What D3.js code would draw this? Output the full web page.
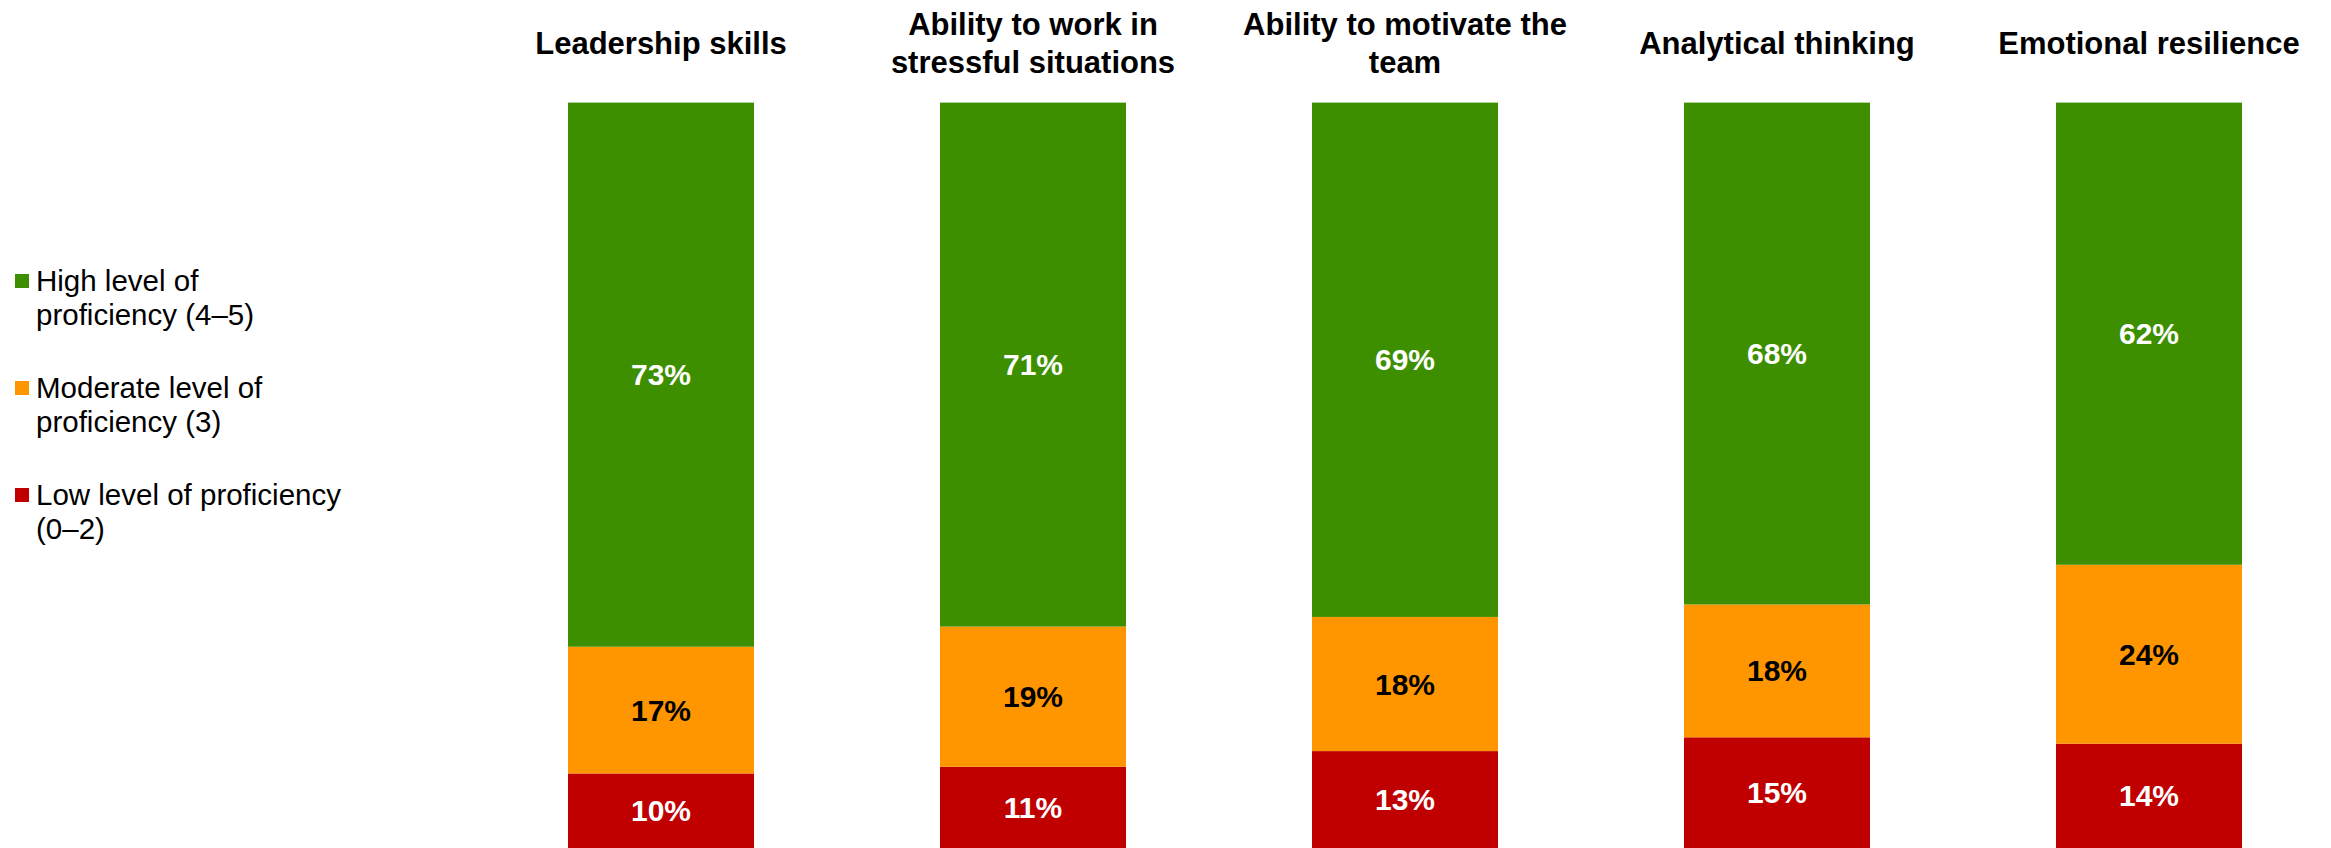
<!DOCTYPE html>
<html>
<head>
<meta charset="utf-8">
<script src="https://cdn.jsdelivr.net/npm/d3@7"></script>
<style>
  html, body { margin: 0; padding: 0; background: #fff; }
  svg { display: block; font-family: "Liberation Sans", Arial, Helvetica, sans-serif; }
</style>
</head>
<body>
<svg id="chart" width="2331" height="848"></svg>
<script>
// Skill categories (titles may wrap onto two lines)
const categories = [
  "Leadership skills",
  "Ability to work in stressful situations",
  "Ability to motivate the team",
  "Analytical thinking",
  "Emotional resilience"
];
const titleLines = [
  ["Leadership skills"],
  ["Ability to work in", "stressful situations"],
  ["Ability to motivate the", "team"],
  ["Analytical thinking"],
  ["Emotional resilience"]
];

// Share of respondents per proficiency level (%)
const lowValues      = [10, 11, 13, 15, 14];
const moderateValues = [17, 19, 18, 18, 24];
const highValues     = [73, 71, 69, 68, 62];

const seriesKeys   = ["low", "moderate", "high"];
const seriesColors = { low: "#c00000", moderate: "#ff9600", high: "#3d8f00" };
const labelColors  = { low: "#ffffff", moderate: "#000000", high: "#ffffff" };
const legendItems = [
  { key: "high",     lines: ["High level of", "proficiency (4\u20135)"] },
  { key: "moderate", lines: ["Moderate level of", "proficiency (3)"] },
  { key: "low",      lines: ["Low level of proficiency", "(0\u20132)"] }
];

const rows = categories.map((c, i) => ({
  category: c,
  low: lowValues[i],
  moderate: moderateValues[i],
  high: highValues[i]
}));

const svg = d3.select("#chart");

// 100% stacked columns
const stack = d3.stack().keys(seriesKeys).offset(d3.stackOffsetExpand);
const layers = stack(rows);

const x = d3.scaleBand()
  .domain(categories)
  .range([475, 2335])
  .paddingInner(0.5)
  .paddingOuter(0.25);

const y = d3.scaleLinear().domain([0, 1]).range([848, 102.6]);

const layerG = svg.append("g").selectAll("g")
  .data(layers)
  .join("g")
  .attr("fill", d => seriesColors[d.key]);

layerG.selectAll("rect")
  .data(d => d)
  .join("rect")
  .attr("x", d => x(d.data.category))
  .attr("width", x.bandwidth())
  .attr("y", d => y(d[1]))
  .attr("height", d => y(d[0]) - y(d[1]));

// Value labels centred in each segment
const labelG = svg.append("g").selectAll("g")
  .data(layers)
  .join("g")
  .attr("fill", d => labelColors[d.key]);

labelG.selectAll("text")
  .data(d => d.map(s => ({ s, key: d.key })))
  .join("text")
  .attr("x", d => x(d.s.data.category) + x.bandwidth() / 2)
  .attr("y", d => (y(d.s[0]) + y(d.s[1])) / 2)
  .attr("text-anchor", "middle")
  .attr("dominant-baseline", "central")
  .attr("font-size", 30)
  .attr("font-weight", "bold")
  .text(d => d.s.data[d.key] + "%");

// Column titles
const titleLineHeight = 38;
const titleCenterY = 43;
const titles = svg.append("g").selectAll("text")
  .data(categories)
  .join("text")
  .attr("x", d => x(d) + x.bandwidth() / 2)
  .attr("text-anchor", "middle")
  .attr("font-size", 31)
  .attr("font-weight", "bold")
  .attr("fill", "#000");

titles.each(function(d, i) {
  const lines = titleLines[i];
  const t = d3.select(this);
  const firstBaseline = titleCenterY + 11 - (lines.length - 1) * titleLineHeight / 2;
  lines.forEach((ln, j) => {
    t.append("tspan")
      .attr("x", x(d) + x.bandwidth() / 2)
      .attr("y", firstBaseline + j * titleLineHeight)
      .text(ln);
  });
});

// Legend
const legendTop = 291;
const legendGroupGap = 107;
const legendLineHeight = 34;
const legend = svg.append("g");
legendItems.forEach((item, i) => {
  const base = legendTop + i * legendGroupGap;
  legend.append("rect")
    .attr("x", 15)
    .attr("y", base - 17)
    .attr("width", 14)
    .attr("height", 14)
    .attr("fill", seriesColors[item.key]);
  const t = legend.append("text")
    .attr("font-size", 29.5)
    .attr("fill", "#000");
  item.lines.forEach((ln, j) => {
    t.append("tspan")
      .attr("x", 36)
      .attr("y", base + j * legendLineHeight)
      .text(ln);
  });
});
</script>
</body>
</html>
